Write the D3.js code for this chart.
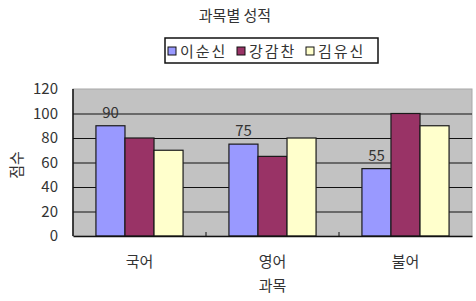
<!DOCTYPE html>
<html>
<head>
<meta charset="utf-8">
<script src="https://cdn.jsdelivr.net/npm/d3@7"></script>
<style>
  body { margin: 0; background: #fff; }
  text { font-family: "Noto Sans CJK KR", "Noto Sans", sans-serif; fill: #333; }
</style>
</head>
<body>
<div id="vis"></div>
<script>
// chart data
var subjects = ['국어', '영어', '불어'];
var students = ['이순신', '강감찬', '김유신'];
var leeScores = [90, 75, 55];
var kangScores = [80, 65, 100];
var kimScores = [70, 80, 90];
var yTicks = [0, 20, 40, 60, 80, 100, 120];
var labelledSeries = '이순신';
var colors = ['#9999ff', '#993366', '#ffffcc'];

var width = 476, height = 301;
var margin = { left: 73, top: 89, right: 4, bottom: 65 };
var drawWidth = width - margin.left - margin.right,
    drawHeight = height - margin.top - margin.bottom;

var seriesValues = [leeScores, kangScores, kimScores];
var rows = [];
subjects.forEach(function (s, i) {
    students.forEach(function (p, j) {
        rows.push({ subject: s, student: p, value: seriesValues[j][i] });
    });
});

var svg = d3.select('#vis').append('svg')
    .attr('width', width)
    .attr('height', height);

var g = svg.append('g')
    .attr('transform', `translate(${margin.left}, ${margin.top})`);

var xScale = d3.scaleBand()
    .domain(subjects)
    .range([0, drawWidth]);

var xInner = d3.scaleBand()
    .domain(students)
    .range([0, xScale.bandwidth()])
    .paddingOuter(0.79);

var yScale = d3.scaleLinear()
    .domain([0, 120])
    .range([drawHeight, 0]);

var color = d3.scaleOrdinal().domain(students).range(colors);

// plot area
g.append('rect')
    .attr('width', drawWidth)
    .attr('height', drawHeight)
    .attr('fill', '#c2c2c2')
    .attr('stroke', '#a8a8a8');

// gridlines
var grid = g.append('g')
    .call(d3.axisLeft(yScale).tickValues(yTicks.filter(function (t) { return t > 0 && t < 120; })).tickSize(-drawWidth).tickFormat(''));
grid.select('.domain').remove();
grid.selectAll('line').attr('stroke', '#111');

// y axis labels
var yAxis = g.append('g')
    .attr('transform', 'translate(-12,0)')
    .call(d3.axisLeft(yScale).tickValues(yTicks).tickSize(0));
yAxis.select('.domain').remove();
yAxis.selectAll('text')
    .attr('font-size', 15)
    .style('fill', '#333');

// bars
g.selectAll('rect.bar')
    .data(rows)
    .enter()
    .append('rect')
    .attr('class', 'bar')
    .attr('x', function (d) { return xScale(d.subject) + xInner(d.student); })
    .attr('y', function (d) { return yScale(d.value); })
    .attr('width', xInner.bandwidth())
    .attr('height', function (d) { return drawHeight - yScale(d.value); })
    .attr('fill', function (d) { return color(d.student); })
    .attr('stroke', '#1a1a1a')
    .attr('stroke-width', 1.2);

// value labels for first series
g.selectAll('text.val')
    .data(rows.filter(function (d) { return d.student === labelledSeries; }))
    .enter()
    .append('text')
    .attr('class', 'val')
    .attr('x', function (d) { return xScale(d.subject) + xInner(d.student) + xInner.bandwidth() / 2; })
    .attr('y', function (d) { return yScale(d.value) - 8; })
    .attr('text-anchor', 'middle')
    .attr('font-size', 15)
    .text(function (d) { return d.value; });

// axis lines
g.append('line')
    .attr('x1', 0).attr('x2', 0)
    .attr('y1', 0).attr('y2', drawHeight)
    .attr('stroke', '#111').attr('stroke-width', 1.5);

var xAxis = g.append('g')
    .attr('transform', `translate(0, ${drawHeight})`)
    .call(d3.axisBottom(xScale).tickSize(0).tickPadding(20));
xAxis.select('.domain').attr('stroke', '#111').attr('stroke-width', 1.5);
xAxis.selectAll('text')
    .attr('font-size', 15)
    .style('fill', '#333');

// boundary ticks pointing inward
g.selectAll('line.xtick')
    .data(subjects.slice(1))
    .enter()
    .append('line')
    .attr('class', 'xtick')
    .attr('x1', function (d) { return xScale(d); })
    .attr('x2', function (d) { return xScale(d); })
    .attr('y1', drawHeight)
    .attr('y2', drawHeight - 4)
    .attr('stroke', '#111');

// titles
svg.append('text')
    .attr('x', 235)
    .attr('y', 21)
    .attr('text-anchor', 'middle')
    .attr('font-size', 15)
    .text('과목별 성적');

svg.append('text')
    .attr('x', margin.left + drawWidth / 2)
    .attr('y', 291)
    .attr('text-anchor', 'middle')
    .attr('font-size', 15)
    .text('과목');

svg.append('text')
    .attr('transform', 'translate(22, 165) rotate(-90)')
    .attr('text-anchor', 'middle')
    .attr('font-size', 15)
    .text('점수');

// legend
var legend = svg.append('g').attr('transform', 'translate(165, 38)');
legend.append('rect')
    .attr('width', 213)
    .attr('height', 25)
    .attr('fill', '#fff')
    .attr('stroke', '#111')
    .attr('stroke-width', 1.5);

var legendX = d3.scaleBand().domain(students).range([3, 210]);
var item = legend.selectAll('g.item')
    .data(students)
    .enter()
    .append('g')
    .attr('class', 'item')
    .attr('transform', function (d) { return `translate(${legendX(d)}, 0)`; });
item.append('rect')
    .attr('x', 0)
    .attr('y', 9)
    .attr('width', 8)
    .attr('height', 8)
    .attr('fill', function (d) { return color(d); })
    .attr('stroke', '#111');
item.append('text')
    .attr('x', 12)
    .attr('y', 18.5)
    .attr('font-size', 15)
    .attr('letter-spacing', 2)
    .text(function (d) { return d; });
</script>
</body>
</html>
